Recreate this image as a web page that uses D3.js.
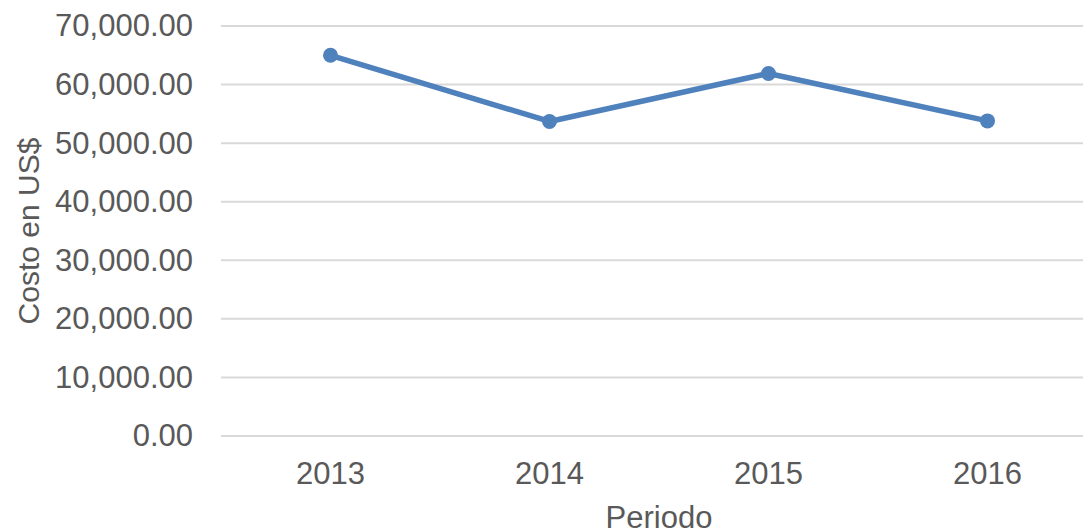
<!DOCTYPE html>
<html><head><meta charset="utf-8">
<script src="https://cdn.jsdelivr.net/npm/d3@7"></script>
<style>body{margin:0;background:#fff}svg{display:block}</style>
</head><body>
<script>
const categories = ["2013","2014","2015","2016"];
const values = [65000, 53700, 61900, 53800];
const yTicks = [0,10000,20000,30000,40000,50000,60000,70000];
const yTitle = "Costo en US$";
const xTitle = "Periodo";

(function(){
const W = 1083, H = 530;
const svg = d3.select("body").append("svg").attr("width",W).attr("height",H);
const mLeft = 221, mRight = 1097, mTop = 26, mBottom = 436;
const font = "'Liberation Sans', Arial, sans-serif";
const textColor = "#595959";

const x = d3.scaleBand().domain(categories).range([mLeft,mRight]);
const y = d3.scaleLinear().domain([0,70000]).range([mBottom,mTop]);

// gridlines
svg.append("g").selectAll("line").data(yTicks).join("line")
  .attr("x1",mLeft).attr("x2",mRight)
  .attr("y1",d=>y(d)).attr("y2",d=>y(d))
  .attr("stroke","#D9D9D9").attr("stroke-width",2);

// y axis labels
const fmt = d3.format(",.2f");
const yAxis = svg.append("g").attr("transform",`translate(${mLeft},0)`)
  .call(d3.axisLeft(y).tickValues(yTicks).tickFormat(fmt).tickSize(0).tickPadding(28));
yAxis.select(".domain").remove();
yAxis.selectAll("text").attr("font-family",font).attr("font-size",31).attr("fill",textColor);

// x axis labels
const xAxis = svg.append("g").attr("transform",`translate(0,${mBottom})`)
  .call(d3.axisBottom(x).tickSize(0).tickPadding(26));
xAxis.select(".domain").remove();
xAxis.selectAll("text").attr("font-family",font).attr("font-size",31).attr("fill",textColor);

// line
const data = categories.map((c,i)=>({c, v: values[i]}));
const line = d3.line().x(d=>x(d.c)+x.bandwidth()/2).y(d=>y(d.v));
svg.append("path").datum(data).attr("d",line)
  .attr("fill","none").attr("stroke","#4F81BD").attr("stroke-width",5.5)
  .attr("stroke-linejoin","round").attr("stroke-linecap","round");
svg.append("g").selectAll("circle").data(data).join("circle")
  .attr("cx",d=>x(d.c)+x.bandwidth()/2).attr("cy",d=>y(d.v)).attr("r",7.5)
  .attr("fill","#4F81BD");

// titles
svg.append("text").attr("x",659).attr("y",528).attr("text-anchor","middle")
  .attr("font-family",font).attr("font-size",31).attr("fill",textColor).text(xTitle);
svg.append("text").attr("transform","translate(39,231) rotate(-90)").attr("text-anchor","middle")
  .attr("font-family",font).attr("font-size",30).attr("fill",textColor).text(yTitle);
})();
</script>
</body></html>
